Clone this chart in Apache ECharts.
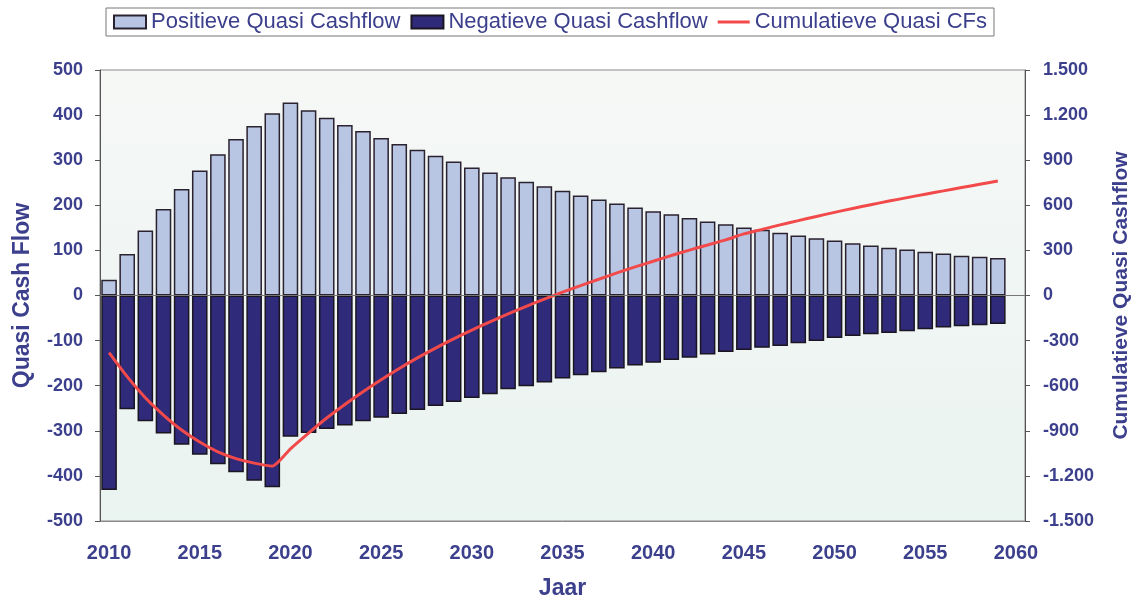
<!DOCTYPE html>
<html>
<head>
<meta charset="utf-8">
<script src="https://cdn.jsdelivr.net/npm/echarts@6/dist/echarts.min.js"></script>
<style>
    html, body { margin: 0; padding: 0; background: #fff; }
    #chart { width: 1135px; height: 601px; }
</style>
</head>
<body>
<div id="chart"></div>
<script>
    // jaren 2010 t/m 2060 (2060 alleen als as-label)
    const years = [];
    for (let y = 2010; y <= 2060; y++) years.push(String(y));

    const positief = [35, 92, 144, 192, 236, 277, 313, 347, 376, 404,
        428, 411, 394, 378, 365, 349, 336, 323, 310, 297,
        284, 273, 262, 252, 242, 232, 222, 213, 204, 195,
        187, 180, 172, 164, 158, 151, 146, 139, 133, 127,
        122, 116, 111, 106, 102, 97, 93, 88, 86, 83];

    const negatief = [-431, -252, -279, -306, -331, -353, -374, -392, -411, -425,
        -313, -305, -296, -288, -279, -271, -263, -254, -245, -236,
        -227, -219, -208, -201, -193, -184, -177, -170, -162, -155,
        -149, -143, -138, -131, -125, -121, -116, -112, -106, -101,
        -94, -90, -86, -83, -79, -75, -71, -68, -66, -63];

    const cumulatief = [-380, -540, -680, -795, -895, -975, -1040, -1085, -1115, -1135,
        -1020, -915, -815, -725, -640, -560, -485, -415, -350, -288,
        -230, -175, -122, -72, -24, 22, 66, 108, 150, 190,
        228, 266, 302, 336, 370, 410, 440, 470, 498, 526,
        553, 579, 604, 628, 651, 674, 696, 718, 740, 762];

    const textColor = '#3b3f8c';
    const fontFam = '"Liberation Sans", Arial, sans-serif';
    // dun lijntje als legenda-icoon (onzichtbaar streepje houdt de hoogte vast)
    const lineIcon = 'path://M0,5 H32 V8 H0 Z M0,0 H0.01 V13 H0 Z';

    let myChart = echarts.init(document.getElementById('chart'));
    myChart.setOption({
        animation: false,
        textStyle: { fontFamily: fontFam },
        legend: {
            top: 8,
            left: 106,
            itemGap: 10,
            itemWidth: 32,
            itemHeight: 13,
            padding: [3, 7],
            borderColor: '#777',
            borderWidth: 1,
            textStyle: { color: textColor, fontSize: 22, fontFamily: fontFam },
            data: [
                { name: 'Positieve Quasi Cashflow', icon: 'rect' },
                { name: 'Negatieve Quasi Cashflow', icon: 'rect' },
                { name: 'Cumulatieve Quasi CFs', icon: lineIcon }
            ]
        },
        grid: {
            left: 100,
            right: 110,
            top: 70,
            bottom: 80,
            outerBoundsMode: 'none',
            show: true,
            backgroundColor: new echarts.graphic.LinearGradient(0, 0, 0, 1, [
                { offset: 0, color: '#f6f8f6' },
                { offset: 1, color: '#e9f3f0' }
            ]),
            borderColor: '#8a8a8a',
            borderWidth: 1
        },
        xAxis: {
            type: 'category',
            data: years,
            name: 'Jaar',
            nameLocation: 'middle',
            nameGap: 56,
            nameTextStyle: { color: textColor, fontSize: 23, fontWeight: 'bold' },
            axisLine: { onZero: false, lineStyle: { color: '#8a8a8a' } },
            axisTick: { show: false },
            axisLabel: {
                interval: 4,
                margin: 22,
                color: textColor,
                fontSize: 20,
                fontWeight: 'bold'
            }
        },
        yAxis: [
            {
                type: 'value',
                min: -500,
                max: 500,
                interval: 100,
                name: 'Quasi Cash Flow',
                nameLocation: 'middle',
                nameGap: 66,
                nameTextStyle: { color: textColor, fontSize: 23, fontWeight: 'bold' },
                axisLine: { show: true, lineStyle: { color: '#555' } },
                axisTick: { show: true, length: 5, lineStyle: { color: '#555' } },
                splitLine: { show: false },
                axisLabel: { color: textColor, fontSize: 18, fontWeight: 'bold', margin: 17 }
            },
            {
                type: 'value',
                min: -1500,
                max: 1500,
                interval: 300,
                name: 'Cumulatieve Quasi Cashflow',
                nameLocation: 'middle',
                nameGap: 86,
                nameRotate: 90,
                nameTextStyle: { color: textColor, fontSize: 21, fontWeight: 'bold' },
                axisLine: { show: true, lineStyle: { color: '#555' } },
                axisTick: { show: true, length: 5, lineStyle: { color: '#555' } },
                splitLine: { show: false },
                axisLabel: {
                    color: textColor,
                    fontSize: 18,
                    fontWeight: 'bold',
                    margin: 18,
                    formatter: function (v) {
                        let s = String(Math.abs(v)).replace(/\B(?=(\d{3})+(?!\d))/g, '.');
                        return (v < 0 ? '-' : '') + s;
                    }
                }
            }
        ],
        series: [
            {
                name: 'Positieve Quasi Cashflow',
                type: 'bar',
                stack: 'qcf',
                barCategoryGap: '14%',
                itemStyle: { color: '#b8c6e4', borderColor: '#2b2230', borderWidth: 1.5 },
                data: positief,
                markLine: {
                    silent: true,
                    symbol: 'none',
                    label: { show: false },
                    lineStyle: { color: '#777', width: 1, type: 'solid' },
                    data: [{ yAxis: 0 }]
                }
            },
            {
                name: 'Negatieve Quasi Cashflow',
                type: 'bar',
                stack: 'qcf',
                barCategoryGap: '14%',
                itemStyle: { color: '#2f2a7a', borderColor: '#1a1520', borderWidth: 1.5 },
                data: negatief
            },
            {
                name: 'Cumulatieve Quasi CFs',
                type: 'line',
                yAxisIndex: 1,
                symbol: 'none',
                smooth: 0.2,
                lineStyle: { color: '#f24a4a', width: 3 },
                itemStyle: { color: '#f24a4a' },
                data: cumulatief
            }
        ]
    });
</script>
</body>
</html>
